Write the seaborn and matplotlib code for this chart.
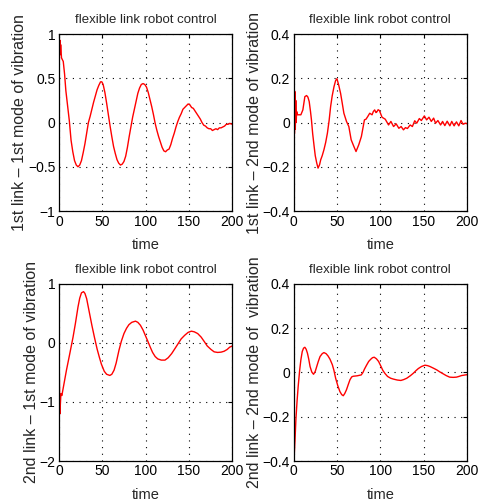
import matplotlib
matplotlib.use("Agg")
import matplotlib.pyplot as plt
import seaborn as sns
import pandas as pd

# 1st link - 1st mode of vibration
t11 = [0, 0.4, 0.8, 1.2, 1.6, 2.0, 3, 5, 6.5, 8, 10, 12, 14, 16, 18, 20, 22, 24, 26, 28,
       30, 32, 34, 36, 38, 40, 42, 44, 46, 48, 49.5, 51, 53, 55, 57, 59, 61, 63, 65, 67,
       69, 71, 73, 75, 77, 79, 81, 83, 85, 87, 89, 91, 93, 95, 97, 99, 101, 103, 105, 107,
       109, 111, 113, 115, 117, 119, 121, 123, 125, 127, 129, 131, 133, 135, 137, 139, 141,
       143, 145, 147, 149, 151, 153, 155, 157, 159, 161, 163, 165, 167, 169, 171, 173, 175,
       177, 179, 181, 183, 185, 187, 189, 191, 193, 195, 197, 200]
y11 = [0.88, 0.95, 0.76, 0.93, 0.78, 0.88, 0.73, 0.69, 0.55, 0.36, 0.19, 0.02, -0.20,
       -0.33, -0.43, -0.48, -0.50, -0.48, -0.43, -0.34, -0.24, -0.12, 0.0, 0.07, 0.15,
       0.23, 0.30, 0.37, 0.42, 0.46, 0.46, 0.43, 0.34, 0.22, 0.09, -0.04, -0.16, -0.27,
       -0.35, -0.42, -0.46, -0.48, -0.47, -0.44, -0.38, -0.28, -0.16, -0.05, 0.06, 0.15,
       0.24, 0.33, 0.39, 0.43, 0.44, 0.43, 0.40, 0.34, 0.26, 0.18, 0.09, -0.01, -0.09,
       -0.16, -0.22, -0.28, -0.32, -0.33, -0.31, -0.30, -0.25, -0.18, -0.12, -0.05, 0.01,
       0.06, 0.10, 0.15, 0.17, 0.19, 0.21, 0.20, 0.17, 0.16, 0.13, 0.10, 0.07, 0.04, 0.0,
       -0.03, -0.04, -0.06, -0.07, -0.07, -0.09, -0.08, -0.07, -0.08, -0.06, -0.06, -0.05,
       -0.04, -0.02, -0.02, -0.01, -0.02]

# 1st link - 2nd mode of vibration
t12 = [0, 0.5, 1.0, 1.5, 2.0, 2.5, 3.0, 3.5, 4.6, 8.4, 10.7, 13, 15, 16.5, 18, 19.5, 20.6,
       22, 23.7, 25, 26.7, 28.2, 30, 31.3, 33, 35, 37, 39, 41, 42.7, 44.5, 46.6, 48.5, 50,
       52, 54.2, 56, 58, 61, 63.7, 66.4, 69.5, 72, 75.2, 78.2, 81.7, 83.5, 85.5, 87.8,
       90.5, 92, 93.5, 95, 96, 97.5, 99, 102, 105.7, 109.5, 112.2, 115.3, 118.3, 121.4,
       124, 126.7, 129, 131.3, 134.4, 137, 139.7, 142, 145, 147.3, 150.8, 153.4, 156.1,
       158.8, 161.5, 163.7, 166.4, 169.5, 171.8, 174.4, 177.1, 180.2, 182.4, 185.1, 187.8,
       190.5, 193.1, 195.4, 198.1, 200]
y12 = [0.0, 0.15, -0.05, 0.14, -0.03, 0.10, 0.0, 0.05, 0.035, 0.035, 0.057, 0.117, 0.122,
       0.115, 0.095, 0.05, 0.012, -0.05, -0.108, -0.15, -0.183, -0.206, -0.19, -0.168,
       -0.15, -0.123, -0.09, -0.048, 0.01, 0.072, 0.12, 0.162, 0.19, 0.198, 0.17, 0.132,
       0.09, 0.042, 0.005, -0.018, -0.078, -0.108, -0.131, -0.10, -0.063, 0.012, 0.015,
       0.027, 0.042, 0.035, 0.05, 0.057, 0.045, 0.048, 0.058, 0.054, 0.024, 0.015, -0.011,
       0.005, -0.018, -0.006, -0.026, -0.018, -0.033, -0.023, -0.027, -0.011, -0.018,
       0.008, -0.003, 0.018, 0.009, 0.030, 0.012, 0.024, 0.005, 0.020, -0.003, 0.009,
       -0.011, 0.005, -0.014, 0.006, -0.015, 0.005, -0.015, 0.003, -0.015, 0.009, -0.008,
       -0.003, -0.005]

# 2nd link - 1st mode of vibration
t21 = [0, 1.1, 2.3, 3.4, 5, 8.7, 12, 16.3, 19, 22, 24, 26, 28.4, 30, 32, 34, 36, 38, 40.9,
       44, 46.6, 49, 52.3, 55, 58.7, 61, 63.6, 66, 69.3, 72, 75, 78, 80.7, 84, 88.3, 91,
       94, 97, 99.6, 102.5, 105.3, 108, 111, 114, 118, 122.3, 126, 130, 134, 137.5, 141,
       145, 149, 152.7, 156, 160, 164, 167.8, 171, 175.4, 179, 183, 187, 190.5, 194, 197,
       200]
y21 = [0.0, -1.2, -0.86, -0.89, -0.76, -0.46, -0.22, 0.10, 0.33, 0.61, 0.76, 0.85, 0.87,
       0.84, 0.75, 0.60, 0.45, 0.30, 0.10, -0.10, -0.24, -0.36, -0.48, -0.53, -0.55,
       -0.53, -0.46, -0.34, -0.12, 0.03, 0.16, 0.25, 0.31, 0.35, 0.37, 0.35, 0.30, 0.22,
       0.13, 0.03, -0.07, -0.16, -0.23, -0.27, -0.29, -0.29, -0.25, -0.18, -0.09, -0.01,
       0.07, 0.13, 0.18, 0.20, 0.19, 0.16, 0.10, 0.02, -0.05, -0.11, -0.15, -0.16, -0.155,
       -0.14, -0.11, -0.07, -0.05]

# 2nd link - 2nd mode of vibration
t22 = [0, 0.8, 1.7, 2.7, 4, 5.3, 7, 8.4, 10, 11.5, 13, 14.5, 16, 17.5, 19, 21, 23, 25,
       26.7, 28.5, 30.5, 33, 35, 37.5, 39.7, 42, 44.7, 46.5, 48.5, 51, 53.4, 55.5, 57.3,
       59, 61, 63, 65, 67, 68.7, 73.3, 78, 80, 81.7, 84, 86.6, 89, 91, 93, 95.5, 98,
       100.5, 103, 105.5, 108.4, 112, 115.3, 119.5, 123.7, 127, 130.5, 134.5, 138.2, 141,
       143.9, 147.5, 151.5, 154.5, 157.3, 161, 165, 168.5, 172.5, 176, 180, 184, 187.8,
       190.5, 193.5, 198, 200]
y22 = [0.0, -0.37, -0.30, -0.21, -0.13, -0.063, 0.01, 0.057, 0.095, 0.11, 0.114, 0.105,
       0.087, 0.06, 0.027, 0.002, -0.008, 0.005, 0.027, 0.05, 0.072, 0.085, 0.09, 0.085,
       0.075, 0.06, 0.035, 0.01, -0.026, -0.06, -0.086, -0.10, -0.105, -0.095, -0.078,
       -0.055, -0.033, -0.02, -0.017, -0.015, -0.011, 0.0, 0.015, 0.032, 0.05, 0.06, 0.067,
       0.069, 0.062, 0.05, 0.03, 0.009, -0.005, -0.018, -0.026, -0.03, -0.034, -0.036,
       -0.032, -0.026, -0.015, -0.003, 0.008, 0.018, 0.027, 0.033, 0.031, 0.027, 0.02,
       0.012, 0.003, -0.006, -0.014, -0.021, -0.022, -0.021, -0.018, -0.014, -0.011, -0.01]

series = [
    (t11, y11, "1st link \u2013 1st mode of vibration", (-1, 1), [-1, -0.5, 0, 0.5, 1]),
    (t12, y12, "1st link \u2013 2nd mode of vibration", (-0.4, 0.4), [-0.4, -0.2, 0, 0.2, 0.4]),
    (t21, y21, "2nd link \u2013 1st mode of vibration", (-2, 1), [-2, -1, 0, 1]),
    (t22, y22, "2nd link \u2013 2nd mode of  vibration", (-0.4, 0.4), [-0.4, -0.2, 0, 0.2, 0.4]),
]
xticks = [0, 50, 100, 150, 200]
title = "flexible link robot control"

sns.set_style("white")
plt.rcParams["font.family"] = ["Liberation Sans", "DejaVu Sans"]

fig, axes = plt.subplots(2, 2, figsize=(4.79, 5.04), dpi=100)
fig.subplots_adjust(left=0.123, right=0.975, bottom=0.0853, top=0.9325,
                    wspace=0.353, hspace=0.412)

for ax, (t, y, ylab, ylim, yticks) in zip(axes.flat, series):
    df = pd.DataFrame({"time": t, "value": y})
    sns.lineplot(data=df, x="time", y="value", ax=ax, color="red", linewidth=1.0,
                 estimator=None, sort=False)
    ax.set_xlim(0, 200)
    ax.set_ylim(*ylim)
    ax.set_xticks(xticks)
    ax.set_yticks(yticks)
    ax.set_yticklabels([f"{v:g}".replace("-", "\u2212") for v in yticks])
    ax.grid(True, color="black", linestyle=(0, (1, 5)), linewidth=0.8)
    ax.tick_params(direction="in", length=3, width=0.8, top=True, right=True,
                   labelsize=10, pad=2.5, colors="black")
    for s in ax.spines.values():
        s.set_color("black")
        s.set_linewidth(0.9)
    ax.set_xlabel("time", fontsize=10.5, labelpad=6.5)
    ax.set_ylabel(ylab, fontsize=11.5, labelpad=0.5)
    ax.set_title(title, fontsize=9.5, pad=8)

plt.savefig("out.png", dpi=100)
plt.close()
